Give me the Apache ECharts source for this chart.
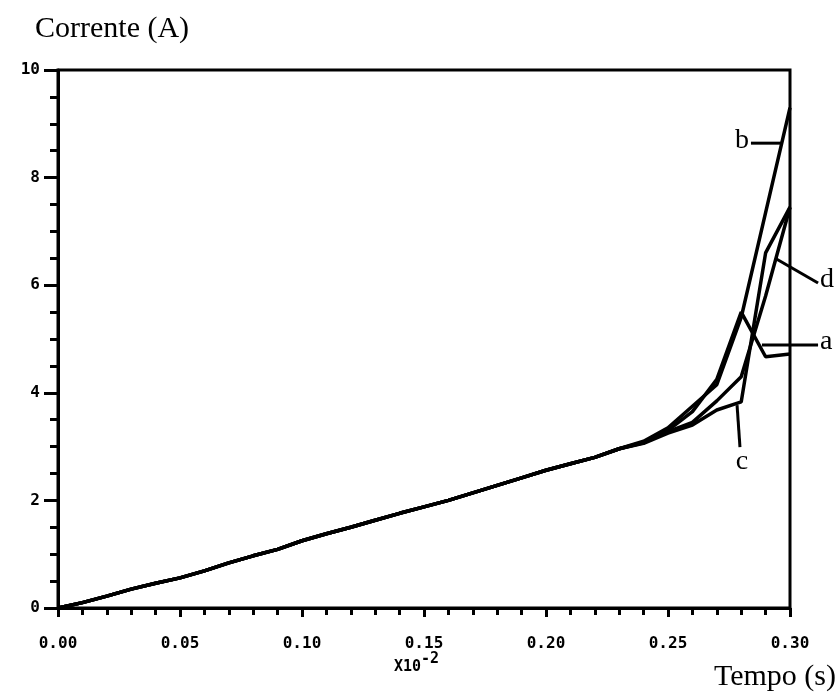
<!DOCTYPE html>
<html>
<head>
<meta charset="utf-8">
<script src="https://cdn.jsdelivr.net/npm/echarts@6/dist/echarts.min.js"></script>
<style>
  html, body { margin: 0; padding: 0; background: #fff; }
  #grafico { width: 840px; height: 698px; }
</style>
</head>
<body>
<div id="grafico"></div>
<script>
// tempo em unidades de 10^-2 s
var tempo = [0.00, 0.01, 0.02, 0.03, 0.04, 0.05, 0.06, 0.07, 0.08, 0.09,
             0.10, 0.11, 0.12, 0.13, 0.14, 0.15, 0.16, 0.17, 0.18, 0.19,
             0.20, 0.21, 0.22, 0.23, 0.24, 0.25, 0.26, 0.27, 0.28, 0.29, 0.30];

// corrente (A) de cada caso
var correnteA = [0, 0.10, 0.22, 0.35, 0.46, 0.56, 0.69, 0.84, 0.97, 1.09,
                 1.25, 1.38, 1.50, 1.63, 1.76, 1.88, 2.00, 2.14, 2.28, 2.42,
                 2.56, 2.68, 2.80, 2.96, 3.08, 3.30, 3.65, 4.25, 5.50, 4.67, 4.72];
var correnteB = [0, 0.10, 0.22, 0.35, 0.46, 0.56, 0.69, 0.84, 0.97, 1.09,
                 1.25, 1.38, 1.50, 1.63, 1.76, 1.88, 2.00, 2.14, 2.28, 2.42,
                 2.56, 2.68, 2.80, 2.96, 3.10, 3.35, 3.75, 4.15, 5.40, 7.35, 9.30];
var correnteC = [0, 0.10, 0.22, 0.35, 0.46, 0.56, 0.69, 0.84, 0.97, 1.09,
                 1.25, 1.38, 1.50, 1.63, 1.76, 1.88, 2.00, 2.14, 2.28, 2.42,
                 2.56, 2.68, 2.80, 2.96, 3.06, 3.25, 3.40, 3.68, 3.83, 6.60, 7.45];
var correnteD = [0, 0.10, 0.22, 0.35, 0.46, 0.56, 0.69, 0.84, 0.97, 1.09,
                 1.25, 1.38, 1.50, 1.63, 1.76, 1.88, 2.00, 2.14, 2.28, 2.42,
                 2.56, 2.68, 2.80, 2.96, 3.07, 3.28, 3.45, 3.85, 4.30, 5.80, 7.45];

// rótulos das curvas: letra, ponto inicial e final do traço (coordenadas dos eixos)
var rotulos = [
  ['b', 0.2840, 8.64, 0.2967, 8.64],
  ['d', 0.2939, 6.50, 0.3115, 6.04],
  ['a', 0.2885, 4.89, 0.3115, 4.89],
  ['c', 0.2783, 3.77, 0.2795, 2.99]
];

function serie(nome, valores) {
  return {
    name: nome,
    type: 'line',
    data: tempo.map(function (t, i) { return [t, valores[i]]; }),
    symbol: 'none',
    smooth: false,
    lineStyle: { color: '#000', width: 3.5 },
    z: 3
  };
}

var fonteEixo = { fontFamily: 'DejaVu Sans Mono', fontWeight: 'bold', fontSize: 16, color: '#000' };

var chart = echarts.init(document.getElementById('grafico'));

var option = {
  backgroundColor: '#fff',
  animation: false,
  grid: {
    left: 58, right: 50, top: 70, bottom: 90,
    show: true, borderColor: '#000', borderWidth: 3
  },
  xAxis: {
    type: 'value', min: 0, max: 0.30, interval: 0.05,
    axisLine: { onZero: false, lineStyle: { color: '#000', width: 3 } },
    axisTick: { show: true, inside: false, length: 9, lineStyle: { color: '#000', width: 3 } },
    minorTick: { show: true, splitNumber: 5, length: 7, lineStyle: { color: '#000', width: 3 } },
    splitLine: { show: false },
    axisLabel: Object.assign({ margin: 28, formatter: function (v) { return v.toFixed(2); } }, fonteEixo)
  },
  yAxis: {
    type: 'value', min: 0, max: 10, interval: 2,
    axisLine: { onZero: false, lineStyle: { color: '#000', width: 3 } },
    axisTick: { show: true, inside: false, length: 14, lineStyle: { color: '#000', width: 3 } },
    minorTick: { show: true, splitNumber: 4, length: 8, lineStyle: { color: '#000', width: 3 } },
    splitLine: { show: false },
    axisLabel: Object.assign({ margin: 18 }, fonteEixo)
  },
  graphic: [
    { type: 'text', left: 35, top: 14,
      style: { text: 'Corrente (A)', font: '30px "Liberation Serif"', fill: '#000' } },
    { type: 'text', right: 4, top: 662,
      style: { text: 'Tempo (s)', font: '30px "Liberation Serif"', fill: '#000' } },
    { type: 'text', left: 394, top: 652,
      style: {
        text: '{b|X10}{s|-2}', fill: '#000',
        rich: {
          b: { fontFamily: 'DejaVu Sans Mono', fontWeight: 'bold', fontSize: 15, padding: [9, 0, 0, 0] },
          s: { fontFamily: 'DejaVu Sans Mono', fontWeight: 'bold', fontSize: 15, padding: [0, 0, 7, 0] }
        }
      } }
  ],
  series: [
    serie('a', correnteA),
    serie('b', correnteB),
    serie('c', correnteC),
    serie('d', correnteD),
    {
      type: 'custom',
      clip: false,
      data: rotulos.map(function (r) { return [r[1], r[2], r[3], r[4]]; }),
      encode: { x: [0, 2], y: [1, 3] },
      renderItem: function (params, api) {
        var letra = rotulos[params.dataIndex][0];
        var p1 = api.coord([api.value(0), api.value(1)]);
        var p2 = api.coord([api.value(2), api.value(3)]);
        var tx, ty, al, va;
        if (letra === 'b') { tx = p1[0] - 2; ty = p1[1] - 3; al = 'right'; va = 'middle'; }
        else if (letra === 'c') { tx = p2[0] + 2; ty = p2[1] + 1; al = 'center'; va = 'top'; }
        else { tx = p2[0] + 2; ty = p2[1] - 3; al = 'left'; va = 'middle'; }
        return {
          type: 'group',
          children: [
            { type: 'line', shape: { x1: p1[0], y1: p1[1], x2: p2[0], y2: p2[1] },
              style: { stroke: '#000', lineWidth: 3 } },
            { type: 'text', style: { text: letra, x: tx, y: ty, align: al, verticalAlign: va,
              font: '28px "Liberation Serif"', fill: '#000' } }
          ]
        };
      },
      z: 4
    }
  ]
};

chart.setOption(option);
</script>
</body>
</html>
